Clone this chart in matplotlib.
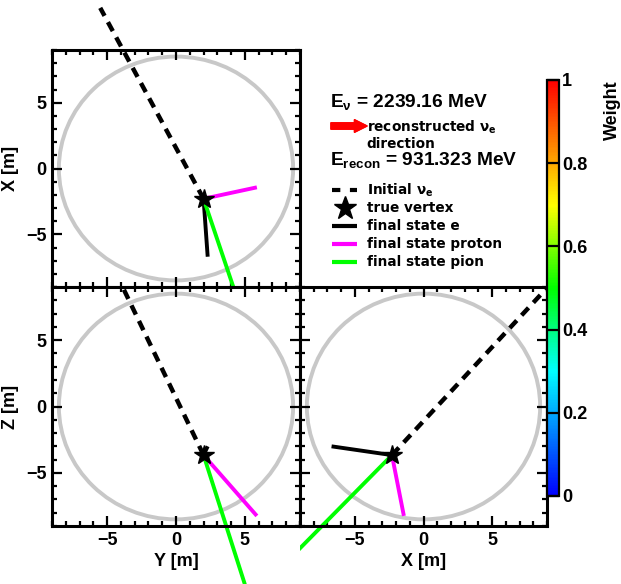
import matplotlib
matplotlib.use('Agg')
import matplotlib.pyplot as plt
from matplotlib.patches import Circle
from matplotlib.lines import Line2D
from matplotlib.transforms import Bbox, TransformedBbox
from matplotlib.colors import LinearSegmentedColormap, Normalize
from matplotlib.cm import ScalarMappable
from matplotlib.ticker import MultipleLocator

# event data, coordinates are (X, Y, Z) in metres
DETECTOR_RADIUS = 8.5
VERTEX = [-2.3, 2.0, -3.66]
NU_START = [12.2, -5.5, 12.5]
ELECTRON_END = [-6.7, 2.3, -3.0]
PROTON_END = [-1.43, 5.87, -8.24]
PION_END = [-11.6, 5.0, -13.4]

E_NU = 2239.16
E_RECON = 931.323

WEIGHT_TICKS = [0, 0.2, 0.4, 0.6, 0.8, 1]
WEIGHT_TICK_LABELS = ['0', '0.2', '0.4', '0.6', '0.8', '1']
AXIS_TICKS = [-5, 0, 5]

plt.rcParams['font.family'] = ['Liberation Sans', 'DejaVu Sans']
plt.rcParams['font.weight'] = 'bold'
plt.rcParams['axes.labelweight'] = 'bold'

W, H = 621, 584
fig = plt.figure(figsize=(W / 100, H / 100), dpi=100)


def rect(x0, y0, x1, y1):
    # pixel box measured from the top-left corner -> figure fraction rect
    return [x0 / W, 1 - y1 / H, (x1 - x0) / W, (y1 - y0) / H]


def fx(x):
    return x / W


def fy(y):
    return 1 - y / H


ax_yx = fig.add_axes(rect(52, 50, 300, 287))
ax_yz = fig.add_axes(rect(52, 287, 300, 526))
ax_xz = fig.add_axes(rect(300, 287, 547, 526))

# (axes, horizontal index, vertical index, xlabel, ylabel, clipping pad in pixels)
panels = [
    (ax_yx, 1, 0, None, 'X [m]', (0, 0, 300, 287)),
    (ax_yz, 1, 2, 'Y [m]', 'Z [m]', (0, 287, 300, 584)),
    (ax_xz, 0, 2, 'X [m]', None, (300, 287, 548, 584)),
]

tracks = [
    (NU_START, 'black', (0, (2.3, 1.6)), 3.2),
    (ELECTRON_END, 'black', '-', 2.8),
    (PROTON_END, '#ff00ff', '-', 2.8),
    (PION_END, '#00ff00', '-', 2.8),
]

for ax, i, j, xlab, ylab, pad in panels:
    clip = TransformedBbox(Bbox.from_extents(fx(pad[0]), fy(pad[3]), fx(pad[2]), fy(pad[1])),
                           fig.transFigure)
    ax.add_patch(Circle((0, 0), DETECTOR_RADIUS, fill=False, ec='#c8c8c8', lw=2.8))
    for end, c, ls, lw in tracks:
        ln, = ax.plot([VERTEX[i], end[i]], [VERTEX[j], end[j]], color=c, ls=ls, lw=lw,
                      solid_capstyle='butt')
        ln.set_clip_box(clip)
    ax.plot(VERTEX[i], VERTEX[j], marker='*', ms=15, color='black', zorder=5, clip_on=False)

    ax.set_xlim(-9, 9)
    ax.set_ylim(-9, 9)
    ax.set_xticks(AXIS_TICKS)
    ax.set_yticks(AXIS_TICKS)
    ax.xaxis.set_minor_locator(MultipleLocator(1))
    ax.yaxis.set_minor_locator(MultipleLocator(1))
    ax.tick_params(which='both', direction='in', top=True, right=True, width=1.6,
                   labelsize=13, pad=4)
    ax.tick_params(which='major', length=7.5)
    ax.tick_params(which='minor', length=3.5)
    for s in ax.spines.values():
        s.set_linewidth(2.2)
    if xlab:
        ax.set_xlabel(xlab, fontsize=13, labelpad=3)
    else:
        ax.tick_params(labelbottom=False)
    if ylab:
        ax.set_ylabel(ylab, fontsize=13, labelpad=5)
    else:
        ax.tick_params(labelleft=False)

# energy text and legend
fig.text(fx(330), fy(103), 'E$_{\\mathregular{ν}}$ = %.2f MeV' % E_NU, fontsize=13.8, va='center')
fig.text(fx(330), fy(161), 'E$_{\\mathregular{recon}}$ = %.3f MeV' % E_RECON, fontsize=13.8,
         va='center')
fig.add_artist(plt.annotate('', xy=(367, H - 126), xytext=(331, H - 126),
                            xycoords='figure pixels', textcoords='figure pixels',
                            arrowprops=dict(arrowstyle='simple,head_length=0.9,head_width=0.9,tail_width=0.45',
                                            color='red', shrinkA=0, shrinkB=0)))
leg_font = dict(family='DejaVu Sans', fontweight='bold', fontsize=9.8, va='center')
fig.text(fx(367), fy(127), 'reconstructed ν$_{\\mathregular{e}}$', **leg_font)
fig.text(fx(366), fy(144), 'direction', **leg_font)

entries = [
    ('Initial ν$_{\\mathregular{e}}$', dict(color='black', ls=(0, (2.0, 2.3)), lw=3.0)),
    ('true vertex', None),
    ('final state e', dict(color='black', lw=3.0)),
    ('final state proton', dict(color='#ff00ff', lw=3.0)),
    ('final state pion', dict(color='#00ff00', lw=3.0)),
]
for k, (label, style) in enumerate(entries):
    y = 190 + 18 * k
    if style is None:
        fig.add_artist(Line2D([fx(345)], [fy(y)], marker='*', ms=17, color='black', ls='none',
                              transform=fig.transFigure))
    else:
        fig.add_artist(Line2D([fx(332), fx(357)], [fy(y), fy(y)], solid_capstyle='butt',
                              dash_capstyle='butt', transform=fig.transFigure, **style))
    fig.text(fx(367), fy(y), label, **leg_font)

# colour bar
cax = fig.add_axes(rect(547, 80, 559, 496))
cmap = LinearSegmentedColormap.from_list(
    'weight', [(0, '#0000ff'), (0.3, '#00ffff'), (0.5, '#00ff00'), (0.7, '#ffff00'), (1, '#ff0000')])
cb = fig.colorbar(ScalarMappable(norm=Normalize(0, 1), cmap=cmap), cax=cax, ticks=WEIGHT_TICKS)
cb.set_ticklabels(WEIGHT_TICK_LABELS)
cb.ax.tick_params(direction='in', length=9, width=1.6, labelsize=13, pad=2)
cb.outline.set_linewidth(1.6)
cb.set_label('Weight', loc='top', fontsize=13, labelpad=12)

fig.savefig('out.png', dpi=100)
